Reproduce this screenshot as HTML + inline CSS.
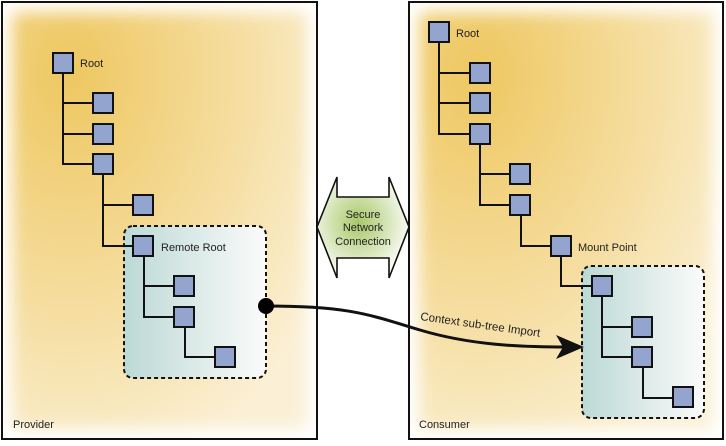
<!DOCTYPE html>
<html><head><style>
body{margin:0;width:726px;height:441px;overflow:hidden;background:#fff;font-family:"Liberation Sans",sans-serif}
</style></head><body>
<svg width="726" height="441" viewBox="0 0 726 441" xmlns="http://www.w3.org/2000/svg">
<defs>
<radialGradient id="bg" cx="0.2" cy="0.15" r="1.0">
<stop offset="0" stop-color="#eec760"/><stop offset="0.6" stop-color="#f6dfa4"/><stop offset="1" stop-color="#fbf0d6"/>
</radialGradient>
<filter id="blur" x="-10%" y="-10%" width="120%" height="120%"><feGaussianBlur stdDeviation="8"/></filter>
<linearGradient id="tl" x1="0" x2="1"><stop offset="0" stop-color="#bcd9d6"/><stop offset="1" stop-color="#fbfbfa"/></linearGradient>
<radialGradient id="gr" cx="0.45" cy="0.45" r="0.6"><stop offset="0" stop-color="#a8c868"/><stop offset="1" stop-color="#ffffff"/></radialGradient>
</defs>
<rect x="2" y="2" width="315" height="437" fill="#fff"/>
<rect x="409" y="2" width="314" height="437" fill="#fff"/>
<rect x="12" y="12" width="295" height="417" fill="url(#bg)" filter="url(#blur)"/>
<rect x="419" y="12" width="294" height="417" fill="url(#bg)" filter="url(#blur)"/>
<rect x="2" y="2" width="315" height="437" fill="none" stroke="#111" stroke-width="2"/>
<rect x="409" y="2" width="314" height="437" fill="none" stroke="#111" stroke-width="2"/>
<rect x="124" y="226" width="142" height="152" rx="9" fill="url(#tl)" stroke="#111" stroke-width="2" stroke-dasharray="4,3"/>
<rect x="582" y="266" width="122" height="152" rx="9" fill="url(#tl)" stroke="#111" stroke-width="2" stroke-dasharray="4,3"/>
<g fill="none" stroke="#111" stroke-width="2">
<path d="M63 73V164H93M63 103H93M63 134H93M103 174V246H133M103 205H133M144 256V317H174M144 286H174M185 327V357H215"/>
<path d="M439 42V134H470M439 73H470M439 103H470M480 144V205H510M480 174H510M521 215V246H551M561 256V286H592M602 296V357H632M602 327H632M643 368V398H673"/>
</g>
<g fill="#93a4cf" stroke="#111" stroke-width="2">
<rect x="53" y="53" width="20" height="20"/><rect x="93" y="93" width="20" height="20"/><rect x="93" y="124" width="20" height="20"/><rect x="93" y="154" width="20" height="20"/>
<rect x="133" y="195" width="20" height="20"/><rect x="133" y="236" width="20" height="20"/><rect x="174" y="276" width="20" height="20"/><rect x="174" y="307" width="20" height="20"/><rect x="215" y="347" width="20" height="20"/>
<rect x="429" y="22" width="20" height="20"/><rect x="470" y="63" width="20" height="20"/><rect x="470" y="93" width="20" height="20"/><rect x="470" y="124" width="20" height="20"/>
<rect x="510" y="164" width="20" height="20"/><rect x="510" y="195" width="20" height="20"/><rect x="551" y="236" width="20" height="20"/><rect x="592" y="276" width="20" height="20"/>
<rect x="632" y="317" width="20" height="20"/><rect x="632" y="347" width="20" height="20"/><rect x="673" y="387" width="20" height="20"/>
</g>
<g style="font-size:11px" fill="#222">
<text x="80" y="67">Root</text><text x="161" y="251">Remote Root</text><text x="13" y="428">Provider</text>
<text x="456" y="37">Root</text><text x="578" y="251">Mount Point</text><text x="419" y="428">Consumer</text>
</g>
<path d="M317 227L337 177V197H389V177L409 227L389 278V258H337V278Z" fill="url(#gr)" stroke="#111" stroke-width="1.6"/>
<text style="font-size:11px" fill="#222" text-anchor="middle"><tspan x="363" y="218">Secure</tspan><tspan x="363" y="231">Network</tspan><tspan x="363" y="245">Connection</tspan></text>
<path d="M266 306C350 306 370 315 420 330S520 347 565 347" fill="none" stroke="#111" stroke-width="3"/>
<path d="M584 347L556 335L563 347L556 359Z" fill="#111"/>
<circle cx="266" cy="306" r="8" fill="#000"/>
<text style="font-size:11.5px" fill="#222" transform="translate(420,320) rotate(8)">Context sub-tree Import</text>
</svg>
</body></html>
